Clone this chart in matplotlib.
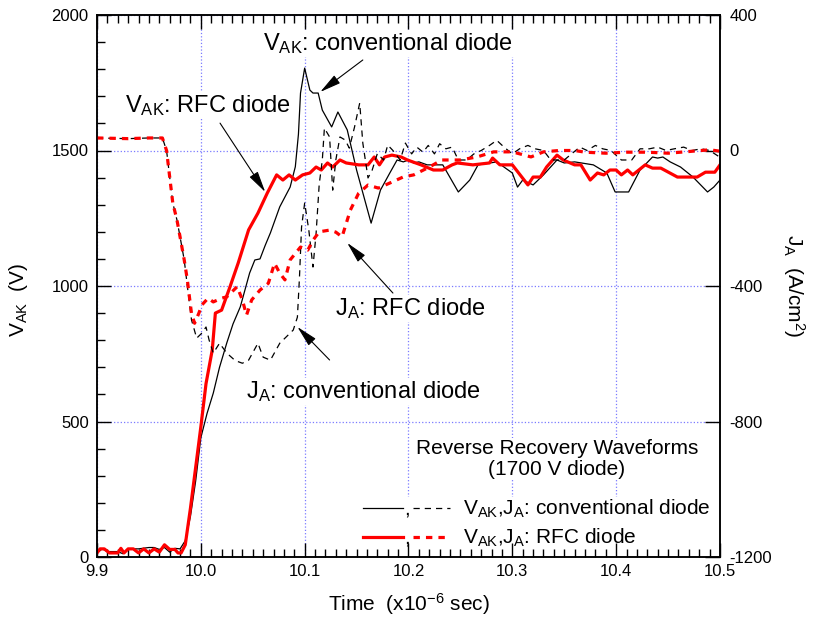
"""
Reverse recovery waveforms (1700 V diode)
conventional diode vs RFC diode : V_AK (left) / J_A (right)
"""

import matplotlib
matplotlib.use("Agg")
import matplotlib.pyplot as plt
import matplotlib.ticker as ticker
from matplotlib.lines import Line2D
from matplotlib.patches import Rectangle

plt.rcParams["font.family"] = ["Liberation Sans", "DejaVu Sans"]
plt.rcParams["mathtext.fontset"] = "custom"
plt.rcParams["mathtext.rm"] = "Liberation Sans"
plt.rcParams["mathtext.it"] = "Liberation Sans:italic"
plt.rcParams["mathtext.bf"] = "Liberation Sans:bold"
plt.rcParams["mathtext.default"] = "regular"
plt.rcParams["axes.unicode_minus"] = False


# ─────────────────────────────────────────
# data
# ─────────────────────────────────────────

# V_AK, conventional diode  [x1e-6 s, V]
t_vak_conv = [9.900, 9.905, 9.910, 9.920, 9.925, 9.930, 9.940, 9.950, 9.955, 9.960,
              9.965, 9.970, 9.975, 9.980, 9.985, 9.990, 9.995, 10.000, 10.006, 10.012,
              10.018, 10.025, 10.031, 10.038, 10.047, 10.052, 10.057, 10.062, 10.067, 10.076,
              10.086, 10.091, 10.094, 10.096, 10.100, 10.105, 10.108, 10.113, 10.117, 10.126,
              10.132, 10.141, 10.150, 10.157, 10.164, 10.173, 10.182, 10.189, 10.195, 10.200,
              10.205, 10.210, 10.218, 10.233, 10.248, 10.259, 10.267, 10.285, 10.300, 10.305,
              10.310, 10.320, 10.330, 10.343, 10.350, 10.360, 10.378, 10.391, 10.399, 10.412,
              10.423, 10.435, 10.440, 10.445, 10.452, 10.462, 10.474, 10.488, 10.494, 10.500]
vak_conv = [15, 30, 20, 20, 12, 30, 30, 35, 35, 28,
            35, 18, 32, 30, 60, 150, 280, 440, 530, 605,
            700, 790, 860, 923, 1048, 1096, 1100, 1150, 1196, 1292,
            1365, 1440, 1560, 1712, 1804, 1723, 1712, 1712, 1649, 1587,
            1642, 1576, 1428, 1330, 1232, 1354, 1417, 1465, 1458, 1465,
            1454, 1458, 1447, 1447, 1347, 1391, 1447, 1458, 1417, 1365,
            1391, 1373, 1410, 1465, 1454, 1458, 1447, 1417, 1347, 1347,
            1428, 1476, 1472, 1476, 1458, 1439, 1402, 1347, 1365, 1391]

# V_AK, RFC diode
t_vak_rfc = [9.900, 9.903, 9.907, 9.912, 9.920, 9.923, 9.926, 9.930, 9.935, 9.940,
             9.945, 9.950, 9.955, 9.960, 9.965, 9.970, 9.975, 9.978, 9.981, 9.985,
             9.990, 9.995, 10.000, 10.005, 10.011, 10.014, 10.020, 10.028, 10.036, 10.046,
             10.055, 10.064, 10.073, 10.079, 10.085, 10.091, 10.098, 10.105, 10.111, 10.116,
             10.122, 10.127, 10.134, 10.140, 10.152, 10.161, 10.167, 10.172, 10.177, 10.184,
             10.193, 10.199, 10.212, 10.224, 10.233, 10.242, 10.247, 10.262, 10.278, 10.281,
             10.288, 10.300, 10.315, 10.320, 10.327, 10.333, 10.343, 10.349, 10.360, 10.366,
             10.375, 10.382, 10.388, 10.394, 10.400, 10.405, 10.411, 10.416, 10.428, 10.435,
             10.443, 10.459, 10.478, 10.486, 10.495, 10.500]
vak_rfc = [15, 30, 30, 15, 15, 32, 15, 30, 30, 15,
           30, 15, 30, 18, 45, 28, 28, 15, 15, 45,
           180, 330, 480, 640, 764, 900, 911, 996, 1085, 1207,
           1269, 1343, 1410, 1391, 1410, 1391, 1410, 1417, 1439, 1428,
           1454, 1439, 1465, 1454, 1447, 1447, 1476, 1447, 1476, 1483,
           1476, 1465, 1447, 1428, 1428, 1447, 1454, 1447, 1454, 1472,
           1447, 1447, 1373, 1402, 1402, 1439, 1483, 1465, 1447, 1447,
           1391, 1417, 1410, 1428, 1428, 1410, 1428, 1410, 1447, 1435,
           1435, 1402, 1402, 1420, 1420, 1447]

# J_A, RFC diode  [A/cm^2]
t_ja_rfc = [9.900, 9.930, 9.950, 9.963, 9.967, 9.970, 9.973, 9.977, 9.980, 9.984,
            9.987, 9.989, 9.991, 9.994, 9.998, 10.001, 10.007, 10.012, 10.020, 10.025,
            10.035, 10.040, 10.044, 10.049, 10.057, 10.065, 10.071, 10.076, 10.081, 10.086,
            10.096, 10.103, 10.108, 10.114, 10.124, 10.130, 10.136, 10.144, 10.152, 10.161,
            10.171, 10.182, 10.195, 10.205, 10.220, 10.232, 10.250, 10.266, 10.282, 10.300,
            10.318, 10.330, 10.345, 10.360, 10.370, 10.390, 10.410, 10.430, 10.450, 10.470,
            10.490, 10.500]
ja_rfc = [37, 35, 37, 37, 0, -78, -155, -205, -255, -323,
          -382, -432, -481, -510, -481, -456, -436, -447, -436, -432,
          -402, -441, -486, -441, -412, -392, -333, -362, -382, -323,
          -285, -294, -265, -240, -235, -241, -255, -176, -126, -102,
          -111, -96, -78, -72, -49, -28, -28, -19, -4, -4,
          -19, -4, 0, 0, -5, -8, -5, -5, -8, -3,
          2, -2]

# J_A, conventional diode
t_ja_conv = [9.900, 9.930, 9.950, 9.963, 9.967, 9.970, 9.973, 9.977, 9.980, 9.984,
             9.987, 9.991, 9.996, 10.001, 10.005, 10.008, 10.012, 10.018, 10.025, 10.033,
             10.040, 10.046, 10.055, 10.060, 10.067, 10.076, 10.082, 10.089, 10.093, 10.095,
             10.097, 10.100, 10.104, 10.108, 10.111, 10.114, 10.117, 10.119, 10.124, 10.127,
             10.130, 10.134, 10.139, 10.143, 10.148, 10.153, 10.156, 10.161, 10.165, 10.170,
             10.176, 10.180, 10.185, 10.192, 10.197, 10.203, 10.208, 10.214, 10.219, 10.225,
             10.230, 10.236, 10.242, 10.248, 10.256, 10.263, 10.270, 10.278, 10.285, 10.292,
             10.300, 10.307, 10.315, 10.322, 10.330, 10.337, 10.350, 10.357, 10.365, 10.372,
             10.380, 10.387, 10.395, 10.405, 10.415, 10.423, 10.432, 10.440, 10.448, 10.456,
             10.465, 10.473, 10.482, 10.490, 10.500]
ja_conv = [37, 35, 37, 37, 0, -78, -155, -205, -255, -323,
           -400, -500, -554, -539, -521, -560, -598, -569, -598, -620,
           -628, -619, -569, -610, -619, -569, -551, -530, -492, -374,
           -226, -155, -235, -344, -245, -100, -28, 66, 40, -117,
           -28, 40, 31, 7, 69, 140, 22, -81, -58, -9,
           -28, 16, 0, -28, 22, -10, 10, -5, 15, -10,
           20, 5, 10, -28, -28, -10, 0, 15, 30, 10,
           -10, 5, 15, 5, 0, -28, -28, -10, 10, 0,
           15, 5, 0, -28, -28, 5, 5, 10, 0, 5,
           10, 0, 5, 0, -20]

X_TICKS = [9.9, 10.0, 10.1, 10.2, 10.3, 10.4, 10.5]
X_TICK_LABELS = ["9.9", "10.0", "10.1", "10.2", "10.3", "10.4", "10.5"]


# ─────────────────────────────────────────
# style
# ─────────────────────────────────────────

RED = "#ff0000"
GRID = "#7a7aff"
NOTE = 17     # arrow notes
TXT = 15      # legend / title / axis labels
TICK = 12
RED_DOT = (0, (2.0, 1.9))
BLK_DASH = (0, (5, 4))
BOX = dict(boxstyle="square,pad=0.05", fc="white", ec="none")
ARROW = dict(arrowstyle="-|>,head_length=0.65,head_width=0.15",
             color="black", lw=0.8, mutation_scale=20, shrinkA=0, shrinkB=0)


fig = plt.figure(figsize=(8.14, 6.21), dpi=100)
ax = fig.add_axes([97 / 814, 1 - 557 / 621, 623 / 814, 542 / 621])
ax2 = ax.twinx()

# grid (incl. the frame edges, as in the original)
for x in X_TICKS:
    ax.axvline(x, color=GRID, lw=0.9, ls=":", zorder=0.5)
for y in [0, 500, 1000, 1500, 2000]:
    ax.axhline(y, color=GRID, lw=0.9, ls=":", zorder=0.5)

# white legend area hides the grid
ax.add_patch(Rectangle((10.148, 0), 0.352, 221, transform=ax.transData,
                       fc="white", ec="none", zorder=0.8))

# curves
ax.plot(t_vak_conv, vak_conv, color="black", lw=0.9, zorder=2)
ax.plot(t_vak_rfc, vak_rfc, color=RED, lw=2.3, zorder=2.2)
ax2.plot(t_ja_conv, ja_conv, color="black", lw=0.9, ls=BLK_DASH, zorder=2)
ax2.plot(t_ja_rfc, ja_rfc, color=RED, lw=2.3, ls=RED_DOT, zorder=2.2)

# axes
ax.set_xlim(9.9, 10.5)
ax.set_ylim(0, 2000)
ax2.set_ylim(-1200, 400)
ax.set_xticks(X_TICKS)
ax.set_xticklabels(X_TICK_LABELS)
ax.xaxis.set_minor_locator(ticker.MultipleLocator(0.01))
ax.yaxis.set_major_locator(ticker.MultipleLocator(500))
ax.yaxis.set_minor_locator(ticker.MultipleLocator(100))
ax2.yaxis.set_major_locator(ticker.MultipleLocator(400))
ax2.yaxis.set_minor_locator(ticker.NullLocator())

ax.tick_params(which="both", direction="in", top=True, bottom=True,
               left=True, right=False, labelsize=TICK, width=1)
ax.tick_params(which="major", length=10)
ax.tick_params(which="minor", length=6)
ax.tick_params(axis="x", pad=5)
ax.tick_params(axis="y", pad=6)
ax2.tick_params(which="major", direction="in", length=11, width=1,
                labelsize=TICK, pad=7)
for a in (ax, ax2):
    for s in a.spines.values():
        s.set_linewidth(1.1)

ax.set_xlabel("Time  (x10$^{-6}$ sec)", fontsize=TXT)
ax.set_ylabel("V$_{AK}$  (V)", fontsize=TXT)
ax2.set_ylabel("J$_{A}$  (A/cm$^{2}$)", fontsize=TXT, rotation=270)
ax.yaxis.set_label_coords(-0.108, 0.475)
ax2.yaxis.set_label_coords(1.14, 0.5)
ax.xaxis.set_label_coords(0.5, -0.063)


# ─────────────────────────────────────────
# annotations (on the upper axes, coordinates in V_AK units)
# ─────────────────────────────────────────

tr = ax.transData


def _note(text, xy_text, head, tail):
    ax2.text(*xy_text, text, transform=tr, fontsize=NOTE, ha="left",
             va="baseline", bbox=BOX, zorder=5)
    ax2.annotate("", xy=head, xycoords=tr, xytext=tail, textcoords=tr,
                 arrowprops=ARROW, zorder=5)


_note("V$_{AK}$: conventional diode", (10.060, 1871), (10.115, 1716), (10.156, 1834))
_note("V$_{AK}$: RFC diode", (9.927, 1642), (10.062, 1347), (10.0185, 1601))
_note("J$_{A}$: RFC diode", (10.129, 893), (10.141, 1159), (10.185, 974))
_note("J$_{A}$: conventional diode", (10.0435, 587), (10.093, 849), (10.124, 727))

ax2.text(10.343, 362, "Reverse Recovery Waveforms\n(1700 V diode)", transform=tr,
         fontsize=TXT, ha="center", va="center", linespacing=1.15,
         bbox=BOX, zorder=5)

# legend drawn by hand:  solid , dashed  label
legend_rows = [
    ("black", 0.9, BLK_DASH, 181, "V$_{AK}$,J$_{A}$: conventional diode"),
    (RED, 2.3, RED_DOT, 74, "V$_{AK}$,J$_{A}$: RFC diode"),
]
for color, lw, ls, y, label in legend_rows:
    ax2.add_line(Line2D([10.156, 10.195], [y, y], transform=tr,
                        color=color, lw=lw, zorder=5))
    ax2.add_line(Line2D([10.2043, 10.24], [y, y], transform=tr,
                        color=color, lw=lw, ls=ls, zorder=5))
    ax2.text(10.1985, y - 25, ",", transform=tr, fontsize=TXT,
             ha="center", va="baseline", zorder=5)
    ax2.text(10.2527, y - 26, label, transform=tr, fontsize=TXT,
             ha="left", va="baseline", zorder=5)

fig.savefig("out.png", dpi=100)
plt.close(fig)
